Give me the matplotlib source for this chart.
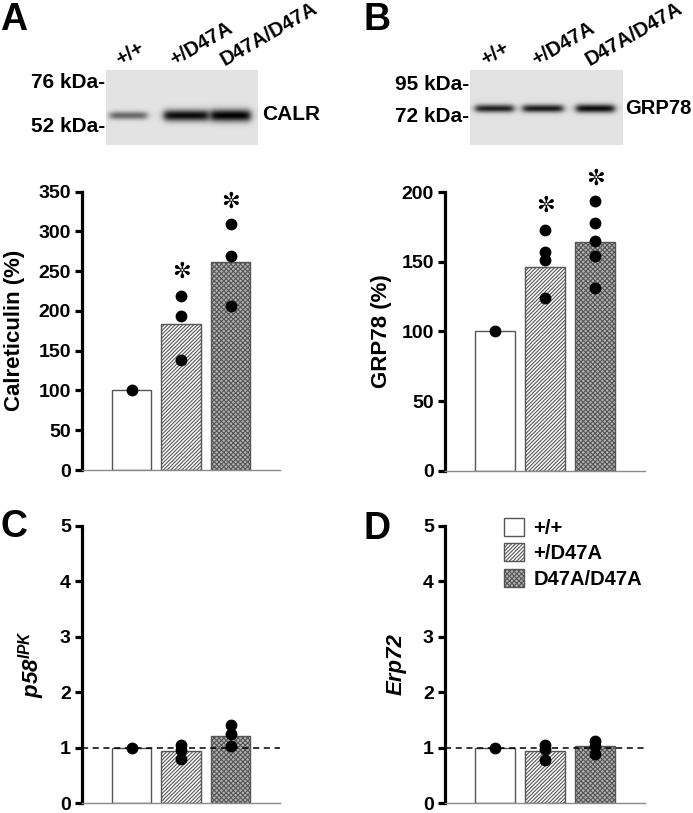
import numpy as np
import matplotlib
matplotlib.use('Agg')
from matplotlib import pyplot as plt
from matplotlib.patches import Patch

plt.rcParams['font.family'] = ['Liberation Sans', 'DejaVu Sans']
plt.rcParams['font.weight'] = 'bold'
plt.rcParams['mathtext.fontset'] = 'custom'
plt.rcParams['mathtext.rm'] = 'Liberation Sans:italic:bold'
plt.rcParams['mathtext.it'] = 'Liberation Sans:italic:bold'
plt.rcParams['hatch.linewidth'] = 0.8

# Genotypes
genotypes = ['+/+', '+/D47A', 'D47A/D47A']
hatches = ['', '/////////', 'xxxxxxx']
bar_faces = ['white', 'white', '#b4b4b4']

# Panel A: calreticulin (%)
calr_mean = [100, 184, 262]
calr_dots = [[100], [219, 194, 138], [309, 269, 206]]
calr_stars = [None, 249, 337]

# Panel B: GRP78 (%)
grp_mean = [100, 146, 164.5]
grp_dots = [[100], [173, 157, 151, 124], [194, 178, 165, 154, 131]]
grp_stars = [None, 190, 210]

# Panel C: p58IPK (fold)
p58_mean = [1.0, 0.93, 1.21]
p58_dots = [[1.0], [1.05, 0.95, 0.79], [1.41, 1.24, 1.02]]

# Panel D: Erp72 (fold)
erp_mean = [1.0, 0.93, 1.02]
erp_dots = [[1.0], [1.04, 0.97, 0.77], [1.12, 1.03, 0.88]]

# Western blot bands (relative intensity per lane)
calr_band = [0.55, 0.95, 1.0]
grp_band = [0.85, 0.88, 0.95]

fig = plt.figure(figsize=(6.93, 8.13), dpi=100)
W, H = 693.0, 813.0


def px_axes(x0, y0, x1, y1):
    # axes from pixel box (top-left origin)
    return fig.add_axes([x0 / W, 1 - y1 / H, (x1 - x0) / W, (y1 - y0) / H])


def bar_panel(ax, means, dots, ymax, yticks, stars=None, dashed=False):
    x = [1, 2, 3]
    for i in range(3):
        ax.bar(x[i], means[i], width=0.8, facecolor=bar_faces[i],
               edgecolor='#555555', hatch=hatches[i], lw=1.0, zorder=2)
    if dashed:
        ax.axhline(1, color='black', ls=(0, (4, 3)), lw=1.1, zorder=3)
    for i in range(3):
        ax.plot([x[i]] * len(dots[i]), dots[i], 'o', color='black', ms=7.5,
                zorder=5, clip_on=False)
        if stars is not None and stars[i] is not None:
            ax.text(x[i], stars[i], '\u273c', ha='center', va='center',
                    fontsize=16, family='DejaVu Sans', zorder=6)
    ax.set_xlim(0, 4)
    ax.set_ylim(0, ymax)
    ax.set_yticks(yticks)
    ax.set_xticks([])
    for s in ['top', 'right']:
        ax.spines[s].set_visible(False)
    ax.spines['left'].set_linewidth(2.3)
    ax.spines['bottom'].set_linewidth(1.0)
    ax.spines['bottom'].set_color('#8a8a8a')
    ax.tick_params(axis='y', direction='out', length=5, width=2.3,
                   labelsize=14, pad=3)
    for lab in ax.get_yticklabels():
        lab.set_fontweight('bold')


def blot(ax, centers, widths, band_y, sigma, intensity, nrows=75, ncols=152):
    img = np.full((nrows, ncols), 0.89)
    xx = np.arange(ncols)
    yy = np.arange(nrows)
    for c, w, s, a in zip(centers, widths, sigma, intensity):
        hx = 1 / (1 + np.exp((np.abs(xx - c) - w / 2) / 2.0))
        vy = np.exp(-0.5 * ((yy - band_y) / s) ** 2)
        img = img * (1 - a * np.outer(vy, hx))
    ax.imshow(img, cmap='gray', vmin=0, vmax=1, aspect='auto',
              interpolation='bilinear')
    ax.set_axis_off()


# ---- Panel A ----
axA = px_axes(82, 191.7, 280, 470)
bar_panel(axA, calr_mean, calr_dots, 350, range(0, 351, 50), stars=calr_stars)
axA.set_ylabel('Calreticulin (%)', fontsize=16, fontweight='bold')
axA.yaxis.set_label_coords(-0.29, 0.5)

bA = px_axes(106, 70, 258, 145)
blot(bA, [22, 80, 124], [37, 45, 40], 45, [2.8, 4.0, 4.3], calr_band)

# ---- Panel B ----
axB = px_axes(445, 192.3, 645, 470.6)
bar_panel(axB, grp_mean, grp_dots, 200, range(0, 201, 50), stars=grp_stars)
axB.set_ylabel('GRP78 (%)', fontsize=16, fontweight='bold')
axB.yaxis.set_label_coords(-0.265, 0.5)

bB = px_axes(470, 70, 623, 145)
blot(bB, [24, 72, 124], [38, 40, 38], 38, [2.8, 2.8, 3.0], grp_band)

# ---- Panel C ----
axC = px_axes(82, 526, 280, 803)
bar_panel(axC, p58_mean, p58_dots, 5, range(0, 6), dashed=True)
axC.set_ylabel(r'$\mathrm{p58}^{\mathrm{IPK}}$', fontsize=16)
axC.yaxis.set_label_coords(-0.175, 0.5)

# ---- Panel D ----
axD = px_axes(445, 526, 645, 803)
bar_panel(axD, erp_mean, erp_dots, 5, range(0, 6), dashed=True)
axD.set_ylabel('Erp72', fontsize=16, fontweight='bold', style='italic')
axD.yaxis.set_label_coords(-0.19, 0.5)

handles = [Patch(facecolor=f, edgecolor='#555555', hatch=h, lw=1.0)
           for f, h in zip(bar_faces, hatches)]
axD.legend(handles, genotypes, loc='upper left', bbox_to_anchor=(0.295, 1.03),
           frameon=False, prop={'weight': 'bold', 'size': 14.5},
           handlelength=1.0, handleheight=1.0, handletextpad=0.45,
           labelspacing=0.28, borderpad=0, borderaxespad=0)

# ---- Blot annotations ----
def ftext(x, y, s, **kw):
    fig.text(x / W, 1 - y / H, s, fontweight='bold', **kw)

for x0, lab in zip([120, 174, 225], genotypes):
    ftext(x0, 66, lab, fontsize=14.5, rotation=30, rotation_mode='anchor',
          ha='left', va='baseline')
for x0, lab in zip([485, 536, 590], genotypes):
    ftext(x0, 66, lab, fontsize=14.5, rotation=30, rotation_mode='anchor',
          ha='left', va='baseline')

ftext(105, 82, '76 kDa-', fontsize=15, ha='right', va='center')
ftext(105, 126, '52 kDa-', fontsize=15, ha='right', va='center')
ftext(262, 115, 'CALR', fontsize=15, ha='left', va='center')
ftext(469, 85, '95 kDa-', fontsize=15, ha='right', va='center')
ftext(469, 117, '72 kDa-', fontsize=15, ha='right', va='center')
ftext(625, 108, 'GRP78', fontsize=14.5, ha='left', va='center')

# Panel letters
ftext(0, 20, 'A', fontsize=27, ha='left', va='center')
ftext(363, 20, 'B', fontsize=27, ha='left', va='center')
ftext(0, 527, 'C', fontsize=27, ha='left', va='center')
ftext(363, 529, 'D', fontsize=27, ha='left', va='center')

plt.savefig('out.png', dpi=100)
